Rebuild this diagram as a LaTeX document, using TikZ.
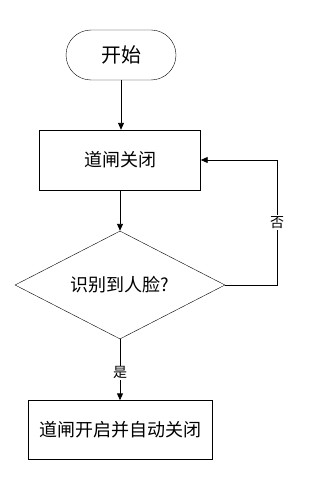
\documentclass[tikz,border=0pt]{standalone}
\usepackage{fontspec}
\setmainfont{Noto Sans CJK SC}
\usetikzlibrary{arrows.meta, shapes.geometric, positioning}

\begin{document}
\begin{tikzpicture}[
  x=1pt, y=-1pt,
  every node/.style = {font=\fontsize{18}{21}\selectfont},
  term/.style  = {draw, rounded corners=25pt, inner sep=0pt,
                  minimum width=110pt, minimum height=50pt,
                  font=\fontsize{20}{23}\selectfont},
  proc/.style  = {draw, inner sep=0pt, minimum height=60pt},
  cond/.style  = {draw, diamond, aspect=2, inner sep=0pt,
                  minimum width=210pt, minimum height=108pt},
  flow/.style  = {line width=0.9pt, -{Triangle[length=7pt, width=6pt]}},
  lab/.style   = {fill=white, inner sep=1pt, font=\fontsize{14}{16}\selectfont},
]

\useasboundingbox (0,0) rectangle (326,500);

% Row y-positions
\def\yS{55}    % start
\def\yC{160}   % gate closed
\def\yD{285}   % decision
\def\yO{430}   % gate opens

% Column x-position
\def\xM{120}

% ── NODES ───────────────────────────────────────────────────────────────────
\node[term] at (121, \yS) (start) {开始};
\node[proc, minimum width=161pt] at (\xM, \yC) (close) {道闸关闭};
\node[cond] at (\xM, \yD) (face) {识别到人脸?};
\node[proc, minimum width=184pt, minimum height=59pt] at (\xM, \yO) (open)
  {道闸开启并自动关闭};

% ── CONNECTORS ──────────────────────────────────────────────────────────────
\draw[flow] (start.south) -- (close.north -| start.south);
\draw[flow] (close.south) -- (face.north);
\draw[flow] (face.south)  -- (open.north)
  node[lab, pos=0.55]{是};

% "no" loop back to the closed state
\coordinate (loop) at (277, \yD);
\draw[flow] (face.east) -- (loop) |- (close.east)
  node[lab, pos=0.25]{否};

\end{tikzpicture}
\end{document}
